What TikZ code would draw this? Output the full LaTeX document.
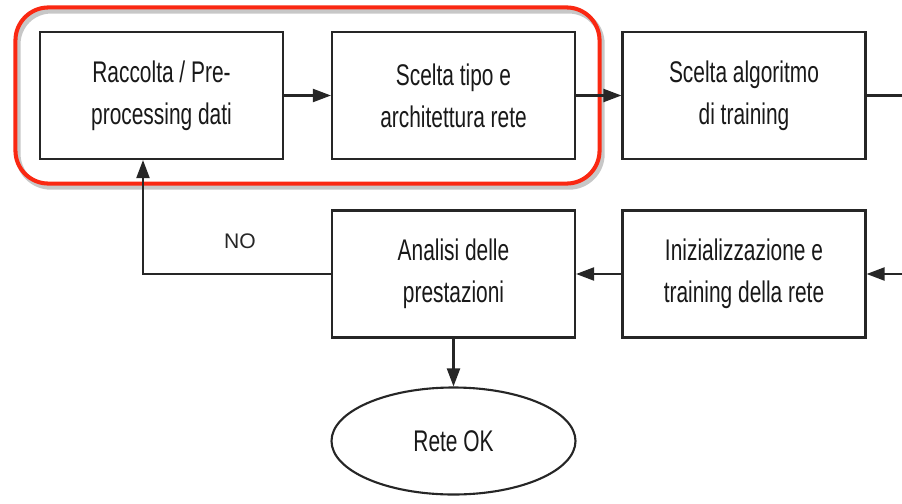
\documentclass[tikz,border=0pt]{standalone}
\usepackage{fontspec}
\setmainfont{Liberation Sans}
\newfontfamily\condfont[FakeStretch=0.7]{Liberation Sans}
\usetikzlibrary{arrows.meta,positioning,fit,shapes.geometric,calc}
\definecolor{ink}{RGB}{38,38,38}
\definecolor{framered}{RGB}{250,40,18}

\begin{document}
\begin{tikzpicture}[
  font=\condfont\fontsize{17}{24}\selectfont,
  >={Triangle[length=3.6mm,width=2.6mm]},
  stage/.style={draw=ink, line width=1.2pt, fill=white,
                minimum width=4.86cm, minimum height=2.54cm,
                align=center, inner sep=0pt, text=black!90},
  endstate/.style={stage, ellipse, minimum width=4.88cm, minimum height=2.14cm},
  flow/.style={->, line width=1.2pt, ink},
  wire/.style={line width=1.2pt, ink},
  frame/.style={draw=framered, line width=2.3pt, rounded corners=0.66cm,
                inner sep=0.47cm,
                preaction={draw=black!22, line width=3pt,
                           transform canvas={shift={(0.05cm,-0.07cm)}}}},
  nolab/.style={font=\normalfont\fontsize{12}{14}\selectfont, text=ink},
]
\useasboundingbox (0,0) rectangle (18.04,10.06);

%% ── Top row ──────────────────────────────────────────────────────────────────
\node[stage] (raccolta)  at (3.23,8.15)  {Raccolta / Pre-\\processing dati};
\node[stage] (scelta)    at (9.07,8.15)  {Scelta tipo e\\architettura rete};
\node[stage] (algoritmo) at (14.88,8.15) {Scelta algoritmo\\di training};

%% ── Bottom row ───────────────────────────────────────────────────────────────
\node[stage]    (analisi)  at (9.07,4.58)  {Analisi delle\\prestazioni};
\node[stage]    (training) at (14.88,4.58) {Inizializzazione e\\training della rete};
\node[endstate] (reteok)   at (9.07,1.24)  {Rete OK};

%% ── Highlight frame around the first two stages ─────────────────────────────
\node[frame, fit=(raccolta)(scelta)] (fase) {};

%% ── Flow arrows ──────────────────────────────────────────────────────────────
\coordinate (outtop) at (18.04,8.15);
\coordinate (intrain) at (18.04,4.58);
\draw[flow] (raccolta) -- (scelta);
\draw[flow] (scelta)   -- (algoritmo);
\draw[wire] (algoritmo) -- (outtop);
\draw[flow] (intrain)  -- (training);
\draw[flow] (training) -- (analisi);
\draw[flow] (analisi)  -- (reteok);

%% ── Feedback loop ────────────────────────────────────────────────────────────
\draw[flow] (analisi.west) -| ([xshift=-0.37cm]raccolta.south);
\node[nolab] (no) at (4.8,5.24) {NO};

\end{tikzpicture}
\end{document}
